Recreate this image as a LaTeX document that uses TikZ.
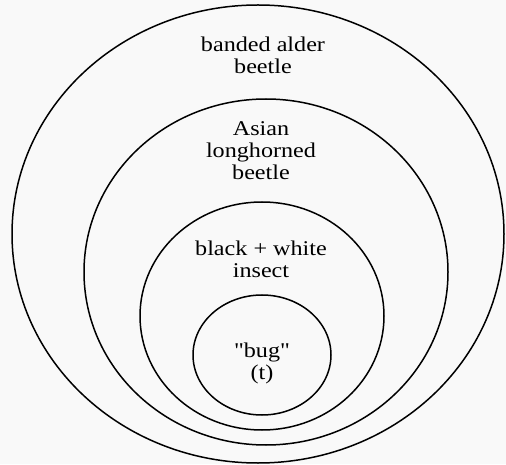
\documentclass[tikz,border=0pt]{standalone}
\usepackage{fontspec}
\newfontfamily\labfont{Liberation Serif}[FakeStretch=1.15]
\definecolor{bg}{RGB}{249,249,249}
\tikzset{
  ring/.style={draw=black, line width=1.5pt},
  lab/.style={align=center, anchor=base, inner sep=0pt, font=\labfont\fontsize{21}{22}\selectfont}
}
\begin{document}
\begin{tikzpicture}[x=1pt,y=1pt]
\fill[bg] (0,0) rectangle (506,464);
\useasboundingbox (0,0) rectangle (506,464);
\draw[ring] (258,230) ellipse [x radius=246, y radius=229];
\draw[ring] (266,192) ellipse [x radius=182, y radius=173];
\draw[ring] (262,148) ellipse [x radius=122, y radius=114];
\draw[ring] (262,109) ellipse [x radius=69, y radius=60];
\node[lab] (outer) at (263,390.3) {banded alder\\beetle};
\node[lab] (second) at (261,284.7) {Asian\\longhorned\\beetle};
\node[lab] (third) at (261,186.3) {black + white\\insect};
\node[lab] (fourth) at (262,85) {"bug"\\(t)};
\end{tikzpicture}
\end{document}
